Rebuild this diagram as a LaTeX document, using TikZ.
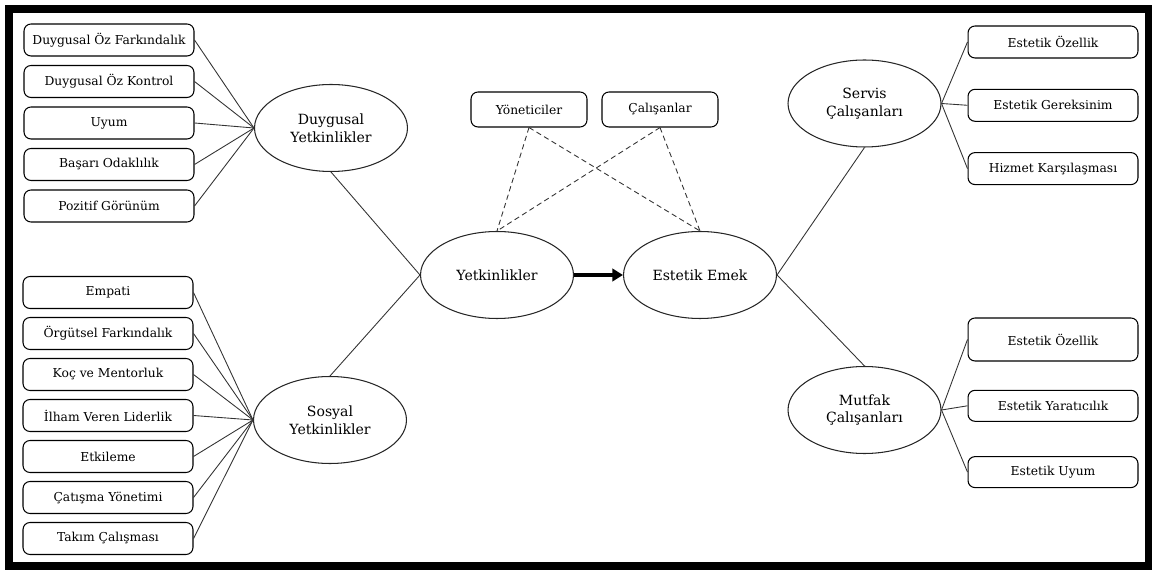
\documentclass[tikz,border=0pt]{standalone}
\usepackage{fontspec}
\setmainfont{DejaVu Serif}
\usepackage{tikz}
\usetikzlibrary{shapes.geometric, arrows.meta}

\tikzset{
    kutu/.style={draw=black, rounded corners=1.4mm, line width=.6pt,
        minimum width=3.4cm, minimum height=0.64cm, inner sep=1pt,
        font=\fontsize{7}{8.5}\selectfont},
    elips/.style={ellipse, draw=black!85, line width=.6pt,
        minimum width=3.06cm, minimum height=1.74cm, align=center,
        font=\fontsize{8}{10}\selectfont},
    bag/.style={draw=black!80, line width=.5pt},
    kesik/.style={draw=black!80, line width=.5pt, dash pattern=on 3pt off 2pt}
}

\begin{document}
\begin{tikzpicture}[x=0.02cm, y=-0.02cm]
    \useasboundingbox (0,0) rectangle (1152,570);
    % Frame
    \draw[line width=4pt] (9,9) rectangle (1148.5,566);
    % Left top boxes
    \foreach \name/\i in {Duygusal Öz Farkındalık/1,Duygusal Öz Kontrol/2,Uyum/3,
        Başarı Odaklılık/4,Pozitif Görünüm/5} {
        \node[kutu] (Duygu-\i) at (109,{40+(\i-1)*41.5}) {\name};
    }
    % Left bottom boxes
    \foreach \name/\i in {Empati/1,Örgütsel Farkındalık/2,Koç ve Mentorluk/3,
        İlham Veren Liderlik/4,Etkileme/5,Çatışma Yönetimi/6,Takım Çalışması/7} {
        \node[kutu] (Sosyal-\i) at (108,{292.5+(\i-1)*41}) {\name};
    }
    % Ellipses
    \node[elips] (DuyYet) at (331,128) {Duygusal\\Yetkinlikler};
    \node[elips] (SosYet) at (330,420) {Sosyal\\Yetkinlikler};
    \node[elips] (Yet) at (497,275) {Yetkinlikler};
    \node[elips] (Emek) at (700,275) {Estetik Emek};
    \node[elips] (Servis) at (864.5,103.5) {Servis\\Çalışanları};
    \node[elips] (Mutfak) at (864.5,410) {Mutfak\\Çalışanları};
    % Top boxes
    \node[kutu, minimum width=2.32cm, minimum height=0.7cm] (Yon) at (529,109.5) {Yöneticiler};
    \node[kutu, minimum width=2.32cm, minimum height=0.7cm] (Cal) at (660,109.5) {Çalışanlar};
    % Right boxes
    \foreach \name/\i in {Estetik Özellik/1,Estetik Gereksinim/2,Hizmet Karşılaşması/3} {
        \node[kutu] (Servis-\i) at (1053,{42+(\i-1)*63.3}) {\name};
    }
    \foreach \name/\i/\h in {Estetik Özellik/1/0.86cm,Estetik Yaratıcılık/2/0.62cm,
        Estetik Uyum/3/0.62cm} {
        \node[kutu, minimum height=\h] (Mutfak-\i) at (1053,{339.5+(\i-1)*66.3}) {\name};
    }
    % Lines
    \foreach \i in {1,...,5} {
        \draw[bag] (Duygu-\i.east) -- (DuyYet.west);
    }
    \foreach \i in {1,...,7} {
        \draw[bag] (Sosyal-\i.east) -- (SosYet.west);
    }
    \draw[bag] (DuyYet.south) -- (Yet.west);
    \draw[bag] (SosYet.north) -- (Yet.west);
    \draw[line width=1.8pt, -{Triangle[length=6pt, width=7pt]}] (Yet.east) -- (Emek.west);
    \foreach \i in {Yon,Cal} {
        \foreach \j in {Yet,Emek} {
           \draw[kesik] (\i.south) -- (\j.north);
        }
    }
    \draw[bag] (Emek.east) -- (Servis.south);
    \draw[bag] (Emek.east) -- (Mutfak.north);
    \foreach \i in {1,2,3} {
        \draw[bag] (Servis.east) -- (Servis-\i.west);
        \draw[bag] (Mutfak.east) -- (Mutfak-\i.west);
    }
\end{tikzpicture}
\end{document}
